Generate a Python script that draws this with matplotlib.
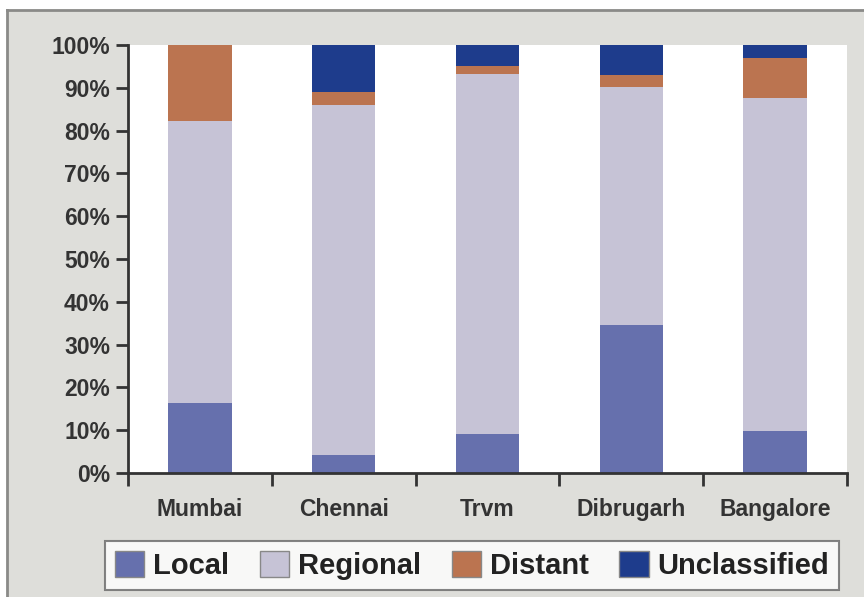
import matplotlib.pyplot as plt
import matplotlib.patches as mpatches
import numpy as np

# Data (percent shares)
cities = ['Mumbai', 'Chennai', 'Trvm', 'Dibrugarh', 'Bangalore']
local = [16.4, 4.2, 9.1, 34.6, 9.8]
regional = [65.8, 81.8, 84.1, 55.6, 77.8]
distant = [17.8, 3.0, 1.8, 2.8, 9.4]
unclassified = [0.0, 11.0, 5.0, 7.0, 3.0]

series_names = ['Local', 'Regional', 'Distant', 'Unclassified']
series_colors = ['#6670ad', '#c6c3d6', '#bb7450', '#1e3c8c']

plt.rcParams['font.family'] = ['Liberation Sans', 'DejaVu Sans']
plt.rcParams['font.weight'] = 'bold'

fig = plt.figure(figsize=(8.64, 5.97), dpi=100)
fig.patch.set_facecolor('white')

# grey panel with a dark line on the top and left side
W, H = 864.0, 597.0
panel = mpatches.Rectangle((7 / W, 0), 1, 1 - 10 / H, transform=fig.transFigure,
                           facecolor='#dededa', edgecolor='none', zorder=-10)
fig.add_artist(panel)
fig.add_artist(plt.Line2D([7 / W, 1], [1 - 10 / H, 1 - 10 / H], transform=fig.transFigure,
                          color='#8a8a88', lw=2, zorder=-9))
fig.add_artist(plt.Line2D([7 / W, 7 / W], [0, 1 - 10 / H], transform=fig.transFigure,
                          color='#8a8a88', lw=2, zorder=-9))

ax = fig.add_axes([128 / W, 1 - 473 / H, (847 - 128) / W, (473 - 45) / H])
ax.set_facecolor('white')

x = np.arange(len(cities))
bottom = np.zeros(len(cities))
for name, vals, col in zip(series_names, [local, regional, distant, unclassified], series_colors):
    ax.bar(x, vals, width=0.44, bottom=bottom, color=col, label=name, zorder=2)
    bottom += np.array(vals)

ax.set_xlim(-0.5, len(cities) - 0.5)
ax.set_ylim(0, 100)
ax.set_yticks(np.arange(0, 101, 10))
ax.set_yticklabels([f'{v}%' for v in range(0, 101, 10)], fontsize=16.5, fontweight='bold', color='#333333')
ax.set_xticks(x)
ax.set_xticklabels(cities, fontsize=16.5, fontweight='bold', color='#333333')
ax.tick_params(axis='x', which='major', length=0, pad=18)
ax.set_xticks(np.arange(-0.5, len(cities)), minor=True)
ax.tick_params(axis='x', which='minor', length=9, width=2, color='#333333', direction='out')
ax.tick_params(axis='y', length=9, width=2, color='#333333', direction='out', pad=4)

for s in ['top', 'right']:
    ax.spines[s].set_visible(False)
for s in ['left', 'bottom']:
    ax.spines[s].set_linewidth(2)
    ax.spines[s].set_color('#333333')

handles = [mpatches.Patch(facecolor=c, edgecolor='#888888', linewidth=1, label=n)
           for n, c in zip(series_names, series_colors)]
leg = fig.legend(handles=handles, loc='center', bbox_to_anchor=(472 / W, 1 - 565.5 / H),
                 ncol=4, frameon=True, fancybox=False, edgecolor='#666666',
                 prop={'size': 21, 'weight': 'bold'}, handlelength=1.0, handleheight=1.0,
                 handletextpad=0.3, columnspacing=1.06, borderpad=0.35)
leg.get_frame().set_linewidth(1.5)
for t in leg.get_texts():
    t.set_color('#222222')

fig.savefig('out.png', dpi=100, facecolor=fig.get_facecolor())
